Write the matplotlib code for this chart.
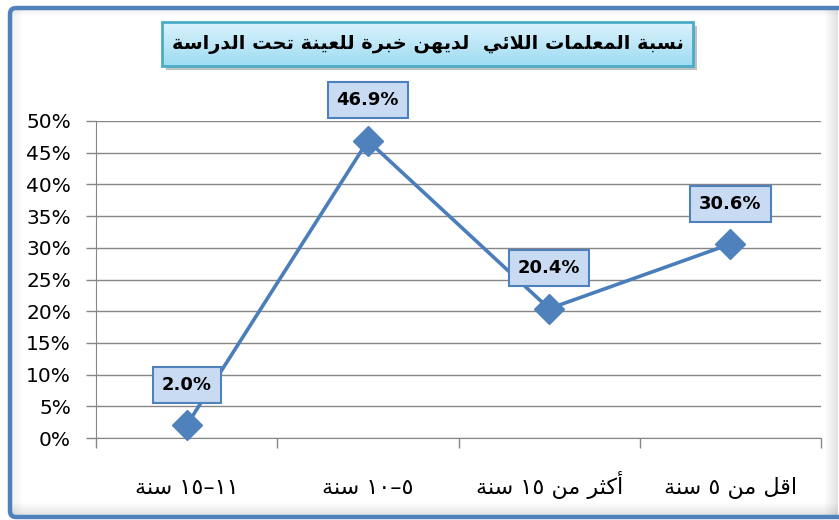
import matplotlib
matplotlib.use("Agg")
import matplotlib.pyplot as plt
import numpy as np
from matplotlib.patches import FancyBboxPatch, Rectangle

# ---------------- data ----------------
title_text = "نسبة المعلمات اللائي  لديهن خبرة للعينة تحت الدراسة"
categories = ["١١–١٥ سنة", "٥–١٠ سنة", "أكثر من ١٥ سنة", "اقل من ٥ سنة"]
values = [2.0, 46.9, 20.4, 30.6]
value_labels = ["2.0%", "46.9%", "20.4%", "30.6%"]
y_ticks = [0, 5, 10, 15, 20, 25, 30, 35, 40, 45, 50]

# ---------------- minimal Arabic shaping (presentation forms + visual order) ----------------
FORMS = {  # iso, fin, ini, med
    'ا': ('\uFE8D', '\uFE8E', None, None),
    'أ': ('\uFE83', '\uFE84', None, None),
    'ب': ('\uFE8F', '\uFE90', '\uFE91', '\uFE92'),
    'ة': ('\uFE93', '\uFE94', None, None),
    'ت': ('\uFE95', '\uFE96', '\uFE97', '\uFE98'),
    'ث': ('\uFE99', '\uFE9A', '\uFE9B', '\uFE9C'),
    'ح': ('\uFEA1', '\uFEA2', '\uFEA3', '\uFEA4'),
    'خ': ('\uFEA5', '\uFEA6', '\uFEA7', '\uFEA8'),
    'د': ('\uFEA9', '\uFEAA', None, None),
    'ر': ('\uFEAD', '\uFEAE', None, None),
    'س': ('\uFEB1', '\uFEB2', '\uFEB3', '\uFEB4'),
    'ع': ('\uFEC9', '\uFECA', '\uFECB', '\uFECC'),
    'ق': ('\uFED5', '\uFED6', '\uFED7', '\uFED8'),
    'ك': ('\uFED9', '\uFEDA', '\uFEDB', '\uFEDC'),
    'ل': ('\uFEDD', '\uFEDE', '\uFEDF', '\uFEE0'),
    'م': ('\uFEE1', '\uFEE2', '\uFEE3', '\uFEE4'),
    'ن': ('\uFEE5', '\uFEE6', '\uFEE7', '\uFEE8'),
    'ه': ('\uFEE9', '\uFEEA', '\uFEEB', '\uFEEC'),
    'ي': ('\uFEF1', '\uFEF2', '\uFEF3', '\uFEF4'),
    'ئ': ('\uFE89', '\uFE8A', '\uFE8B', '\uFE8C'),
}
LAMALEF = {'ا': ('\uFEFB', '\uFEFC'), 'أ': ('\uFEF7', '\uFEF8')}


def dual(c):
    return c in FORMS and FORMS[c][2] is not None


def joins(c):
    return c in FORMS


def shape(text):
    chars = list(text)
    out = []
    i = 0
    n = len(chars)
    while i < n:
        c = chars[i]
        prev = chars[i - 1] if i > 0 else ''
        prev_join = dual(prev) and joins(c)
        if c == 'ل' and i + 1 < n and chars[i + 1] in LAMALEF:
            iso, fin = LAMALEF[chars[i + 1]]
            out.append(fin if dual(prev) else iso)
            i += 2
            continue
        if c in FORMS:
            nxt = chars[i + 1] if i + 1 < n else ''
            next_join = dual(c) and joins(nxt)
            iso, fin, ini, med = FORMS[c]
            if prev_join and next_join:
                out.append(med)
            elif prev_join:
                out.append(fin)
            elif next_join:
                out.append(ini)
            else:
                out.append(iso)
        else:
            out.append(c)
        i += 1
    # visual order: reverse, keeping digit runs left-to-right
    tokens = []
    for ch in out:
        if ch.isdigit() and tokens and tokens[-1][0].isdigit():
            tokens[-1] += ch
        else:
            tokens.append(ch)
    return ''.join(reversed(tokens))


# ---------------- figure ----------------
W, H = 839, 520
DPI = 100
fig = plt.figure(figsize=(W / DPI, H / DPI), dpi=DPI)
fig.patch.set_facecolor('white')

# background decoration axes in pixel coordinates
bg = fig.add_axes([0, 0, 1, 1], zorder=0)
bg.set_xlim(0, W)
bg.set_ylim(H, 0)
bg.axis('off')

# inner shadow of chart frame
for k in range(10):
    a = 0.10 * (1 - k / 10)
    g = (0.45, 0.45, 0.45, a)
    bg.add_patch(Rectangle((12 + k, 10), 1, 506, color=g, lw=0))
    bg.add_patch(Rectangle((12, 10 + k * 0.6), 826, 0.6, color=g, lw=0))
for k in range(14):
    a = 0.22 * (k / 14)
    g = (0.45, 0.45, 0.45, a)
    bg.add_patch(Rectangle((824 + k, 10), 1, 506, color=g, lw=0))
    bg.add_patch(Rectangle((12, 502 + k), 826, 1, color=g, lw=0))
frame = FancyBboxPatch((10, 8), 840, 509, boxstyle="round,pad=0,rounding_size=6",
                       fill=False, ec='#4F81BD', lw=3.2)
bg.add_patch(frame)

# title box with shadow
bg.add_patch(Rectangle((166, 26), 531, 44, color=(0.3, 0.3, 0.3, 0.35), lw=0))
grad = np.linspace(0, 1, 50).reshape(-1, 1)
top_c = np.array([0.86, 0.95, 0.99])
bot_c = np.array([0.62, 0.86, 0.95])
img = top_c[None, None, :] * (1 - grad[:, :, None]) + bot_c[None, None, :] * grad[:, :, None]
bg.imshow(img, extent=(162, 693, 66, 22), aspect='auto', zorder=2)
bg.add_patch(Rectangle((162, 22), 531, 44, fill=False, ec='#4BACC6', lw=2, zorder=3))
bg.text(428, 45, shape(title_text), ha='center', va='center', fontsize=13.9,
        fontweight='bold', family='DejaVu Sans', color='black', zorder=4)

# ---------------- plot axes ----------------
left, right, top, bottom = 96, 821, 121, 438
ax = fig.add_axes([left / W, 1 - bottom / H, (right - left) / W, (bottom - top) / H], zorder=1)
ax.patch.set_alpha(0)

x = np.arange(len(categories))
line_color = '#4A7EBB'
ax.plot(x, values, color=line_color, lw=2.6, marker='D', ms=15.5,
        mfc='#4F81BD', mec='#4F81BD', zorder=5, clip_on=False)

for xi, v, lab in zip(x, values, value_labels):
    ax.annotate(lab, (xi, v), xytext=(0, 29), textcoords='offset points',
                ha='center', va='center', fontsize=13, fontweight='bold',
                color='black', zorder=6,
                bbox=dict(boxstyle='square,pad=0.5', fc='#C9DAF3', ec='#4F81BD', lw=1.5))

ax.set_xlim(-0.5, len(categories) - 0.5)
ax.set_ylim(0, 50)
ax.set_yticks(y_ticks)
ax.set_yticklabels([f"{t}%" for t in y_ticks], fontsize=14.5)
ax.yaxis.grid(True, color='#868686', lw=1)
ax.set_axisbelow(True)

ax.set_xticks(x)
ax.set_xticklabels([shape(c) for c in categories], fontsize=16, family='DejaVu Sans',
                   va='baseline')
ax.set_xticks(np.arange(-0.5, len(categories), 1.0), minor=True)
ax.tick_params(axis='x', which='major', length=0, pad=40)
ax.tick_params(axis='x', which='minor', length=7, color='#868686', width=1, direction='out')
ax.tick_params(axis='y', length=7, color='#868686', width=1, pad=11)

for s in ['top', 'right']:
    ax.spines[s].set_visible(False)
ax.spines['left'].set_color('#868686')
ax.spines['bottom'].set_color('#868686')

fig.savefig('out.png', dpi=DPI)
